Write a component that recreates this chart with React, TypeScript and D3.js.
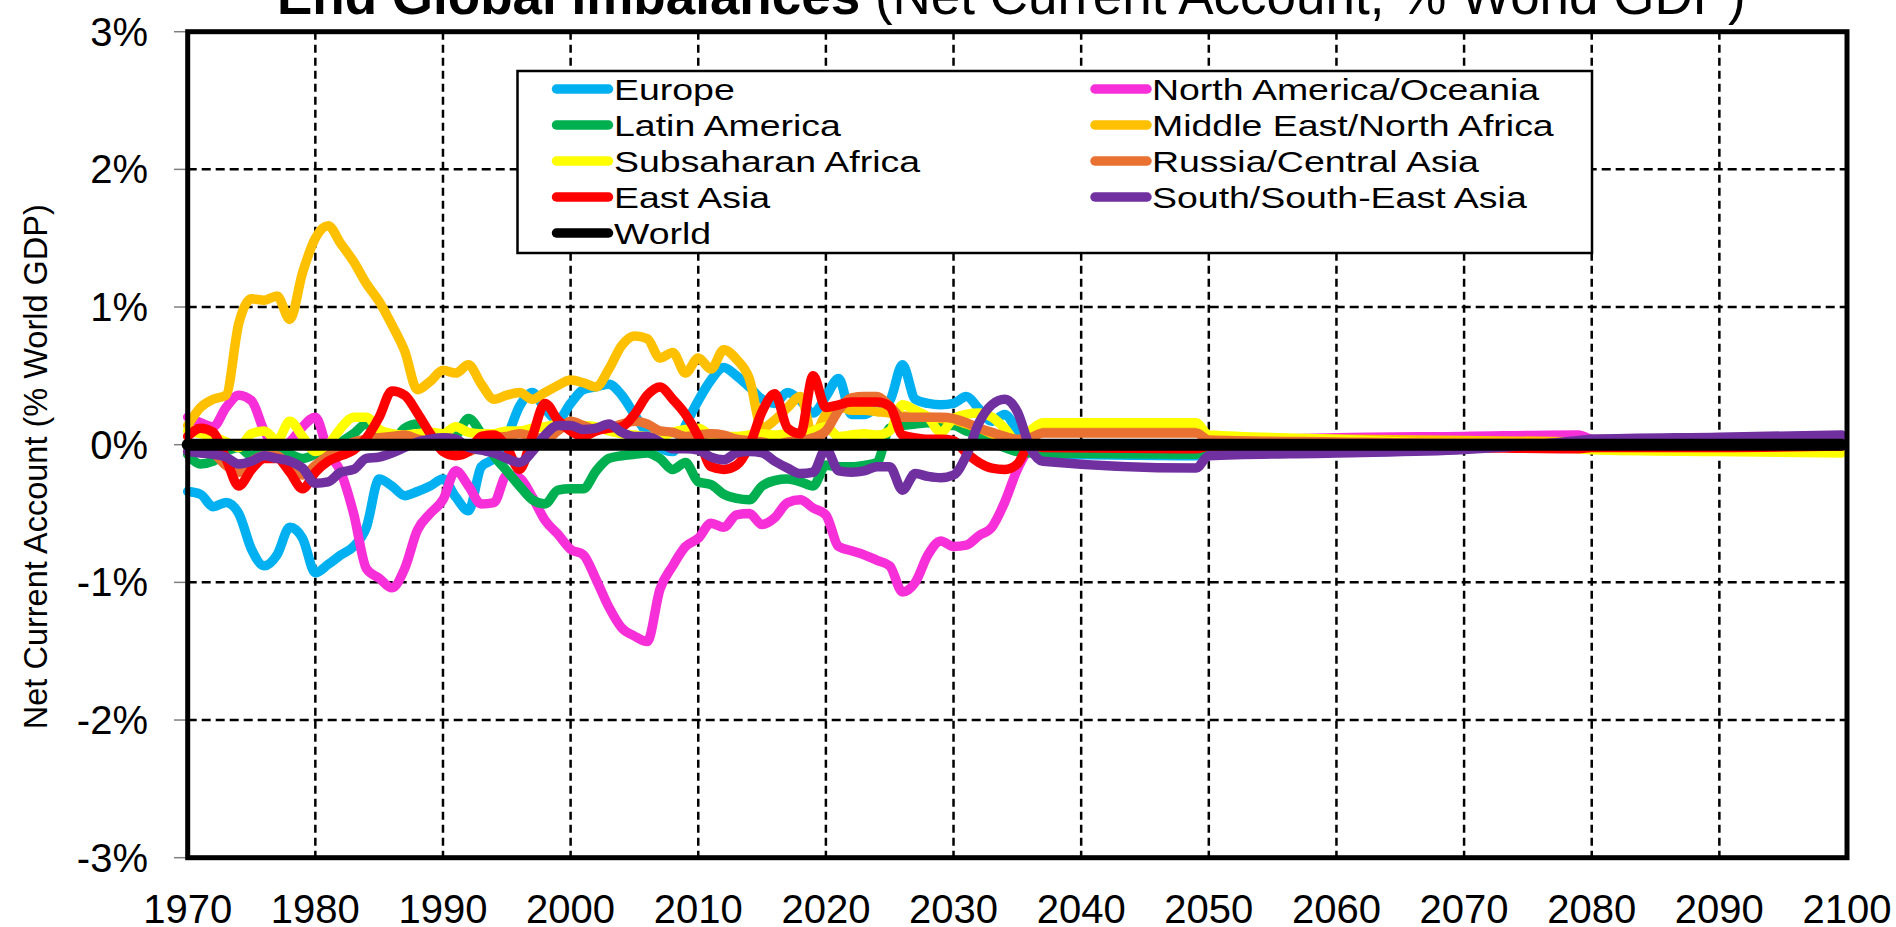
import React from "react";
import * as d3 from "d3";

// ---------- DATA ----------
const years = [
  1970, 1971, 1972, 1973, 1974, 1975, 1976, 1977, 1978, 1979,
  1980, 1981, 1982, 1983, 1984, 1985, 1986, 1987, 1988, 1989,
  1990, 1991, 1992, 1993, 1994, 1995, 1996, 1997, 1998, 1999,
  2000, 2001, 2002, 2003, 2004, 2005, 2006, 2007, 2008, 2009,
  2010, 2011, 2012, 2013, 2014, 2015, 2016, 2017, 2018, 2019,
  2020, 2021, 2022, 2023, 2024, 2025, 2026, 2027, 2028, 2029,
  2030, 2031, 2032, 2033, 2034, 2035, 2036,
  2037, 2049, 2050, 2060, 2070, 2079, 2080, 2090, 2099.6,
];

const europe = [
  -0.34, -0.36, -0.45, -0.42, -0.5, -0.76, -0.88, -0.8, -0.6, -0.68,
  -0.93, -0.87, -0.8, -0.74, -0.6, -0.25, -0.3, -0.37, -0.34, -0.3,
  -0.25, -0.38, -0.48, -0.16, -0.1, 0.05, 0.28, 0.38, 0.26, 0.18,
  0.3, 0.4, 0.42, 0.44, 0.36, 0.22, 0.08, -0.02, -0.05, 0.14,
  0.32, 0.47, 0.56, 0.5, 0.42, 0.33, 0.3, 0.38, 0.32, 0.23,
  0.35, 0.48, 0.22, 0.22, 0.27, 0.32, 0.58, 0.33, 0.3, 0.29,
  0.3, 0.35, 0.26, 0.17, 0.22, 0.1, -0.04,
  -0.07, -0.08, -0.03, -0.02, -0.01, -0.01, 0.0, 0.0, 0.0,
];

const northAmerica = [
  0.2, 0.16, 0.13, 0.27, 0.36, 0.32, 0.1, -0.02, 0.02, 0.13,
  0.2, -0.05, -0.2, -0.5, -0.9, -0.97, -1.04, -0.9, -0.62, -0.5,
  -0.4, -0.19, -0.3, -0.43, -0.42, -0.22, -0.24, -0.38, -0.55, -0.65,
  -0.76, -0.8, -0.98, -1.18, -1.33, -1.39, -1.43, -1.05, -0.88, -0.74,
  -0.68, -0.57, -0.6, -0.51, -0.5, -0.58, -0.53, -0.42, -0.4, -0.46,
  -0.51, -0.74, -0.77, -0.8, -0.84, -0.88, -1.07, -1.0, -0.8, -0.7,
  -0.74, -0.73, -0.66, -0.6, -0.42, -0.18, -0.03,
  0.0, 0.0, 0.02, 0.05, 0.06, 0.07, 0.04, 0.03, 0.02,
];

const latinAmerica = [
  -0.07, -0.14, -0.12, -0.05, -0.02, -0.08, -0.05, -0.05, -0.07, -0.1,
  -0.07, -0.02, 0.02, 0.08, 0.15, 0.05, 0.03, 0.12, 0.15, 0.05,
  0.02, 0.06, 0.19, 0.08, -0.08, -0.19, -0.3, -0.4, -0.43, -0.33,
  -0.32, -0.32, -0.19, -0.1, -0.08, -0.07, -0.06, -0.1, -0.18, -0.13,
  -0.27, -0.29, -0.36, -0.39, -0.4, -0.3, -0.26, -0.25, -0.27, -0.3,
  -0.15, -0.16, -0.16, -0.15, -0.13, 0.12, 0.14, 0.15, 0.16, 0.14,
  0.14, 0.1, 0.07, 0.02, -0.02, -0.05, -0.06,
  -0.06, -0.07, -0.02, -0.01, -0.01, 0.0, 0.0, 0.0, 0.0,
];

const middleEast = [
  0.14, 0.27, 0.33, 0.36, 0.88, 1.06, 1.05, 1.08, 0.91, 1.25,
  1.5, 1.59, 1.46, 1.33, 1.17, 1.04, 0.87, 0.68, 0.4, 0.46,
  0.54, 0.52, 0.58, 0.44, 0.33, 0.36, 0.38, 0.33, 0.38, 0.43,
  0.47, 0.45, 0.42, 0.55, 0.72, 0.79, 0.77, 0.63, 0.67, 0.52,
  0.63, 0.55, 0.69, 0.62, 0.48, 0.12, 0.18, 0.27, 0.35, 0.06,
  0.22, 0.28, 0.25, 0.25, 0.24, 0.23, 0.21, 0.2, 0.2, 0.19,
  0.18, 0.15, 0.12, 0.08, 0.05, 0.03, 0.08,
  0.12, 0.12, 0.05, 0.04, 0.03, 0.02, 0.01, 0.0, 0.0,
];

const subsaharan = [
  0.1, 0.08, 0.06, 0.02, -0.02, 0.08, 0.1, 0.03, 0.17, 0.06,
  -0.05, 0.0, 0.12, 0.2, 0.2, 0.11, 0.08, 0.07, 0.08, 0.09,
  0.08, 0.13, 0.09, 0.08, 0.08, 0.1, 0.1, 0.12, 0.13, 0.15,
  0.15, 0.14, 0.13, 0.1, 0.08, 0.07, 0.06, 0.06, 0.09, 0.11,
  0.12, 0.07, 0.06, 0.06, 0.07, 0.08, 0.07, 0.08, 0.06, 0.1,
  0.13, 0.06, 0.07, 0.08, 0.07, 0.1, 0.29, 0.25, 0.2, 0.09,
  0.19, 0.22, 0.23, 0.2, 0.12, 0.02, 0.1,
  0.16, 0.16, 0.07, 0.04, 0.0, -0.03, -0.036, -0.05, -0.06,
];

const russia = [
  -0.05, -0.03, -0.06, -0.15, -0.2, -0.12, -0.08, -0.08, -0.18, -0.22,
  -0.15, -0.08, -0.02, 0.02, 0.04, 0.05, 0.06, 0.07, 0.04, 0.02,
  0.0, -0.03, -0.05, 0.0, 0.05, 0.06, 0.08, 0.06, 0.04, 0.1,
  0.17, 0.14, 0.11, 0.12, 0.15, 0.17, 0.15, 0.1, 0.09, 0.06,
  0.07, 0.08, 0.07, 0.04, 0.03, 0.02, 0.0, 0.02, 0.03, 0.05,
  0.1, 0.25, 0.34, 0.35, 0.35, 0.28, 0.2, 0.2, 0.2, 0.2,
  0.19, 0.16, 0.12, 0.09, 0.06, 0.04, 0.05,
  0.085, 0.085, 0.035, 0.02, 0.01, 0.01, 0.0, 0.0, 0.0,
];

const eastAsia = [
  0.06, 0.12, 0.09, -0.1, -0.3, -0.18, -0.1, -0.1, -0.2, -0.32,
  -0.2, -0.12, -0.08, -0.04, 0.05, 0.2, 0.39, 0.36, 0.23, 0.08,
  -0.05, -0.08, -0.05, 0.06, 0.07, -0.02, -0.18, 0.06, 0.3, 0.18,
  0.1, 0.06, 0.1, 0.12, 0.13, 0.22, 0.36, 0.42, 0.33, 0.22,
  0.06, -0.16, -0.18, -0.15, -0.01, 0.24, 0.37, 0.12, 0.08, 0.5,
  0.27, 0.29, 0.31, 0.31, 0.31, 0.28, 0.07, 0.05, 0.04, 0.04,
  0.03, -0.06, -0.13, -0.17, -0.18, -0.14, 0.0,
  -0.02, -0.03, -0.01, -0.01, -0.02, -0.03, -0.02, -0.02, -0.01,
];

const southAsia = [
  -0.05, -0.06, -0.07, -0.09, -0.14, -0.12, -0.08, -0.1, -0.12, -0.17,
  -0.28, -0.27, -0.2, -0.18, -0.1, -0.09, -0.06, -0.02, 0.02, 0.04,
  0.05, 0.04, -0.02, -0.04, -0.06, -0.1, -0.13, -0.05, 0.07, 0.14,
  0.14, 0.11, 0.12, 0.15, 0.09, 0.06, 0.06, 0.02, -0.03, -0.03,
  -0.04, -0.09, -0.11, -0.06, -0.05, -0.06, -0.12, -0.17, -0.21, -0.2,
  -0.03, -0.19, -0.2, -0.19, -0.16, -0.16, -0.33, -0.21, -0.23, -0.24,
  -0.22, -0.08, 0.16, 0.29, 0.33, 0.24, -0.02,
  -0.12, -0.17, -0.08, -0.06, -0.035, 0.03, 0.04, 0.055, 0.07,
];

const worldYears = [1970, 2099.6];
const world = [0, 0];

const yTicks = [3, 2, 1, 0, -1, -2, -3];
const yTickLabels = ["3%", "2%", "1%", "0%", "-1%", "-2%", "-3%"];
const xTicks = [1970, 1980, 1990, 2000, 2010, 2020, 2030, 2040, 2050, 2060, 2070, 2080, 2090, 2100];

const seriesNames = [
  "Europe",
  "North America/Oceania",
  "Latin America",
  "Middle East/North Africa",
  "Subsaharan Africa",
  "Russia/Central Asia",
  "East Asia",
  "South/South-East Asia",
  "World",
];
const seriesColors = [
  "#00B0F0",
  "#F72FD8",
  "#00B050",
  "#FFC000",
  "#FFFF00",
  "#E97132",
  "#FF0000",
  "#7030A0",
  "#000000",
];
const seriesValues = [europe, northAmerica, latinAmerica, middleEast, subsaharan, russia, eastAsia, southAsia, world];
const seriesYears = [years, years, years, years, years, years, years, years, worldYears];

// legend layout: [column, row] per series
const legendSlots: [number, number][] = [
  [0, 0], [1, 0], [0, 1], [1, 1], [0, 2], [1, 2], [0, 3], [1, 3], [0, 4],
];

// ---------- LAYOUT ----------
const W = 1896;
const H = 927;
const X0 = 187.7;
const X1 = 1847;
const Y0 = 31.7;
const Y1 = 857.7;
const FONT = "'Liberation Sans', Arial, Helvetica, sans-serif";

export default function App() {
  const x = d3.scaleLinear().domain([1970, 2100]).range([X0, X1]);
  const y = d3.scaleLinear().domain([-3, 3]).range([Y1, Y0]);
  const line = d3
    .line<[number, number]>()
    .x((d) => x(d[0]))
    .y((d) => y(d[1]))
    .curve(d3.curveMonotoneX);

  const legX = [556.5, 1095];
  const legTextX = [614, 1152];
  const legRowY = [89, 125, 161, 197, 233];

  return (
    <svg
      width={W}
      height={H}
      style={{ position: "absolute", left: 0, top: 0, background: "#fff" }}
      fontFamily={FONT}
    >
      <rect x={0} y={0} width={W} height={H} fill="#fff" />
      {/* Title */}
      <text x={277} y={14} fontSize={53} fill="#000">
        <tspan fontWeight="bold">End Global Imbalances</tspan>
        <tspan>{" (Net Current Account, % World GDP)"}</tspan>
      </text>

      {/* gridlines */}
      {xTicks.slice(1, -1).map((t) => (
        <line
          key={"gx" + t}
          x1={x(t)}
          x2={x(t)}
          y1={Y0}
          y2={Y1}
          stroke="#000"
          strokeWidth={2.5}
          strokeDasharray="8,5"
        />
      ))}
      {yTicks.slice(1, -1).map((t) => (
        <line
          key={"gy" + t}
          x1={X0}
          x2={X1}
          y1={y(t)}
          y2={y(t)}
          stroke="#000"
          strokeWidth={2.5}
          strokeDasharray="9,5"
        />
      ))}

      {/* y ticks & labels */}
      {yTicks.map((t, i) => (
        <g key={"yt" + t}>
          <line x1={174} x2={X0} y1={y(t)} y2={y(t)} stroke="#7f7f7f" strokeWidth={1.5} />
          <text x={148} y={y(t)} dy="0.35em" textAnchor="end" fontSize={40} fill="#000">
            {yTickLabels[i]}
          </text>
        </g>
      ))}
      {/* x labels */}
      {xTicks.map((t) => (
        <text key={"xt" + t} x={x(t)} y={923} textAnchor="middle" fontSize={40} fill="#000">
          {t}
        </text>
      ))}

      {/* y-axis title */}
      <text
        transform={`translate(36,${(Y0 + Y1) / 2 + 22}) rotate(-90)`}
        dy="0.35em"
        textAnchor="middle"
        fontSize={32.5}
        fill="#000"
      >
        Net Current Account (% World GDP)
      </text>

      {/* series */}
      {seriesValues.map((vals, si) => {
        const pts: [number, number][] = vals.map((v, i) => [seriesYears[si][i], v]);
        return (
          <path
            key={"s" + si}
            d={line(pts) || ""}
            fill="none"
            stroke={seriesColors[si]}
            strokeWidth={si === 8 ? 12 : 9.5}
            strokeLinejoin="round"
            strokeLinecap="round"
          />
        );
      })}

      {/* plot border */}
      <rect x={X0} y={Y0} width={X1 - X0} height={Y1 - Y0} fill="none" stroke="#000" strokeWidth={5} />

      {/* legend */}
      <rect x={517.5} y={71} width={1074.5} height={182} fill="#fff" stroke="#000" strokeWidth={2.5} />
      {seriesNames.map((name, si) => {
        const [c, r] = legendSlots[si];
        const ly = legRowY[r];
        return (
          <g key={"lg" + si}>
            <line
              x1={legX[c]}
              x2={legX[c] + 52}
              y1={ly}
              y2={ly}
              stroke={seriesColors[si]}
              strokeWidth={9.5}
              strokeLinecap="round"
            />
            <text
              transform={`translate(${legTextX[c]},${ly}) scale(1.27,1)`}
              dy="0.36em"
              fontSize={29.5}
              fill="#000"
            >
              {name}
            </text>
          </g>
        );
      })}
    </svg>
  );
}
